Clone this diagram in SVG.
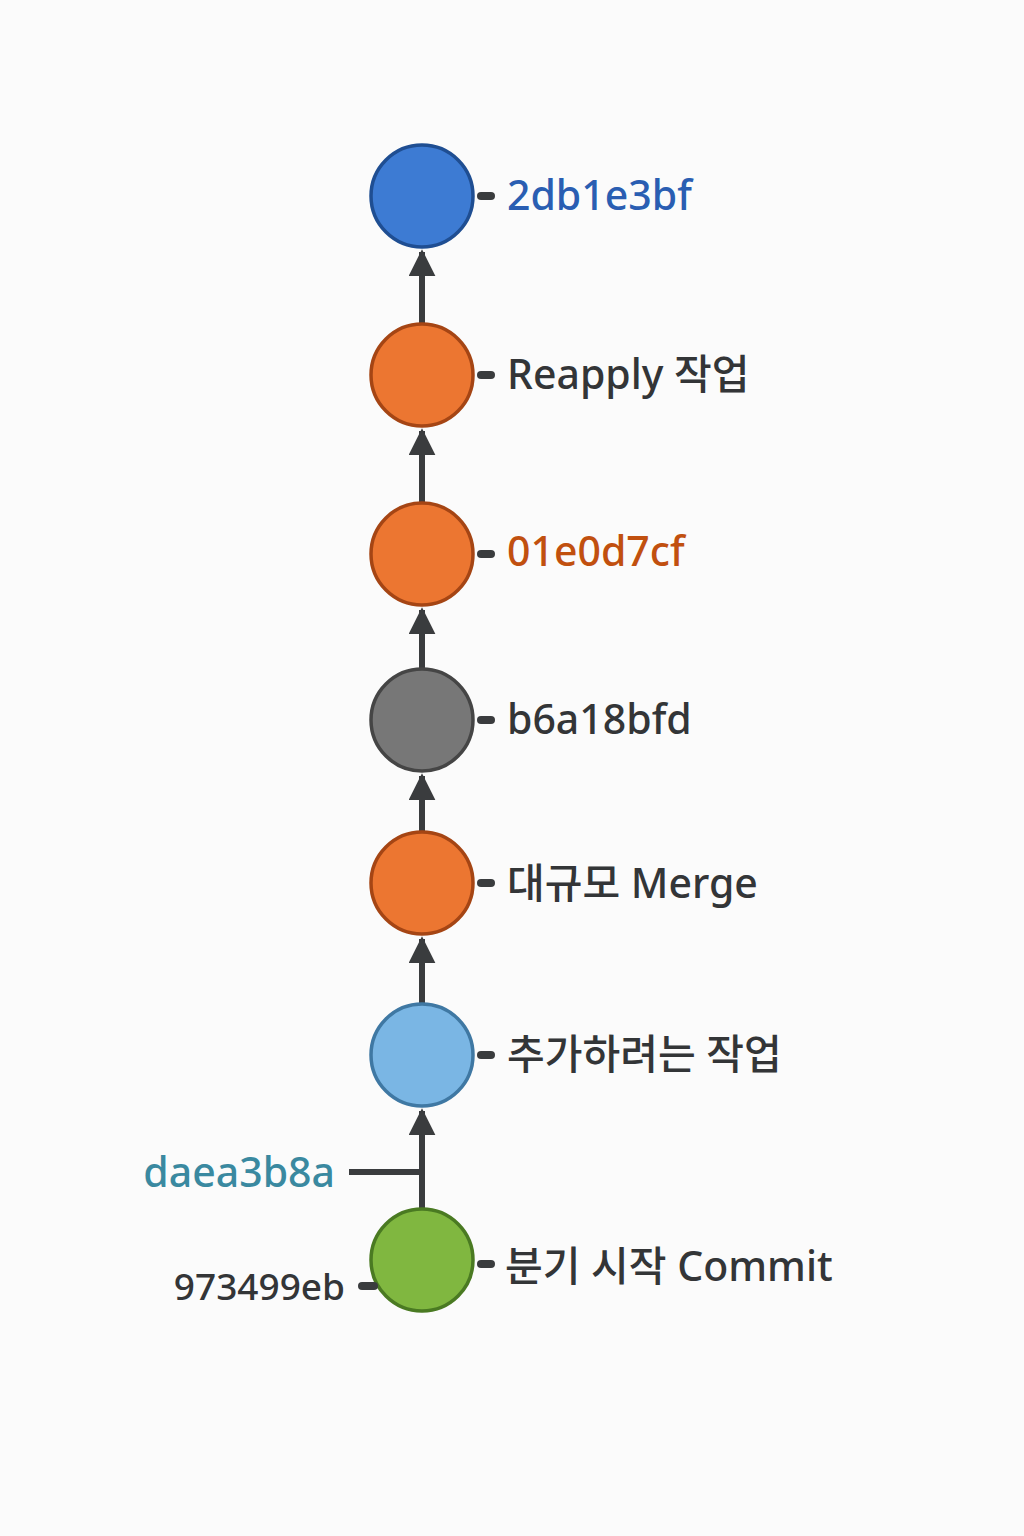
<svg xmlns="http://www.w3.org/2000/svg" width="1024" height="1536" viewBox="0 0 1024 1536">
<defs>
<style>
.lbl{font-family:"Noto Sans","Noto Sans CJK KR",sans-serif;font-size:41px;font-weight:500;fill:#333537}
.tick{stroke:#3a3c3e;stroke-width:8;stroke-linecap:round}
.edge{stroke:#3a3c3e;stroke-width:6;fill:none}
.c{stroke-width:3.5}
</style>
<marker id="ah" viewBox="0 0 10 10" refX="9" refY="5" markerWidth="4.5" markerHeight="4.5" orient="auto" markerUnits="strokeWidth">
<path d="M0,0 L10,5 L0,10 z" fill="#3a3c3e"/>
</marker>
</defs>
<rect width="1024" height="1536" fill="#fbfbfb"/>
<g id="connectors">
<line class="edge" x1="422" y1="324" x2="422" y2="252" marker-end="url(#ah)"/>
<line class="edge" x1="422" y1="503" x2="422" y2="431" marker-end="url(#ah)"/>
<line class="edge" x1="422" y1="669" x2="422" y2="610" marker-end="url(#ah)"/>
<line class="edge" x1="422" y1="832" x2="422" y2="776" marker-end="url(#ah)"/>
<line class="edge" x1="422" y1="1004" x2="422" y2="939" marker-end="url(#ah)"/>
<line class="edge" x1="422" y1="1209" x2="422" y2="1111" marker-end="url(#ah)"/>
<line class="edge" x1="349" y1="1172" x2="422" y2="1172"/>
</g>
<g id="n1">
<circle class="c" cx="422" cy="196" r="51" fill="#3d7bd3" stroke="#1f4e92"/>
<line class="tick" x1="481" y1="196" x2="491" y2="196"/>
<text class="lbl" x="507" y="210" style="fill:#2a5eb2">2db1e3bf</text>
</g>
<g id="n2">
<circle class="c" cx="422" cy="375" r="51" fill="#ec7631" stroke="#a54514"/>
<line class="tick" x1="481" y1="375" x2="491" y2="375"/>
<text class="lbl" x="507" y="389">Reapply 작업</text>
</g>
<g id="n3">
<circle class="c" cx="422" cy="554" r="51" fill="#ec7631" stroke="#a54514"/>
<line class="tick" x1="481" y1="554" x2="491" y2="554"/>
<text class="lbl" x="507" y="566" style="fill:#c1500f">01e0d7cf</text>
</g>
<g id="n4">
<circle class="c" cx="422" cy="720" r="51" fill="#777777" stroke="#454545"/>
<line class="tick" x1="481" y1="720" x2="491" y2="720"/>
<text class="lbl" x="507" y="734">b6a18bfd</text>
</g>
<g id="n5">
<circle class="c" cx="422" cy="883" r="51" fill="#ec7631" stroke="#a54514"/>
<line class="tick" x1="481" y1="883" x2="491" y2="883"/>
<text class="lbl" x="507" y="898">대규모 Merge</text>
</g>
<g id="n6">
<circle class="c" cx="422" cy="1055" r="51" fill="#7ab6e4" stroke="#3f78a3"/>
<line class="tick" x1="481" y1="1055" x2="491" y2="1055"/>
<text class="lbl" x="507" y="1069">추가하려는 작업</text>
</g>
<g id="n7">
<circle class="c" cx="422" cy="1260" r="51" fill="#80b740" stroke="#4a7a22"/>
<line class="tick" x1="481" y1="1264" x2="491" y2="1264"/>
<text class="lbl" x="505" y="1281">분기 시작 Commit</text>
</g>
<g id="tag-daea3b8a">
<text class="lbl" x="335" y="1187" text-anchor="end" style="fill:#3a89a0">daea3b8a</text>
</g>
<g id="tag-973499eb">
<line class="tick" x1="362" y1="1286" x2="374" y2="1286"/>
<text class="lbl" x="345" y="1300" text-anchor="end" style="font-size:37px">973499eb</text>
</g>
</svg>
